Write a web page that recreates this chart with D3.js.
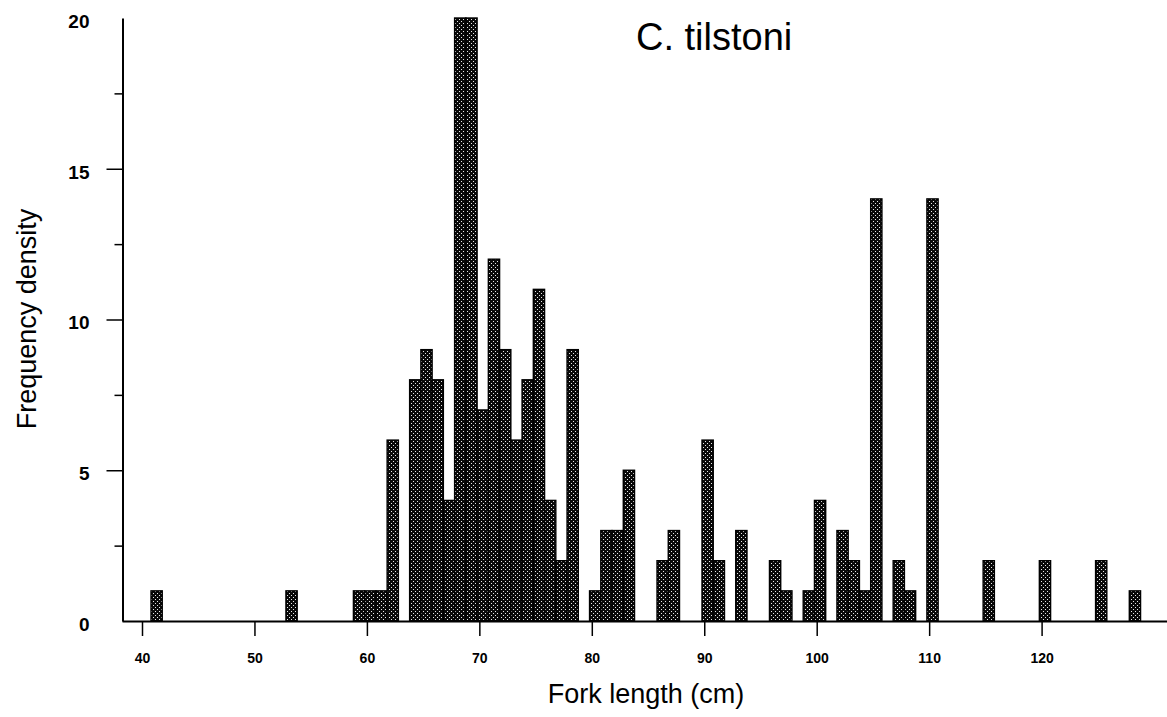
<!DOCTYPE html>
<html>
<head>
<meta charset="utf-8">
<script src="https://cdn.jsdelivr.net/npm/d3@7"></script>
<style>
    body { margin: 0; background: white; }
    svg { display: block; font-family: "Liberation Sans", Arial, sans-serif; }
    .tick-label { font-weight: bold; }
</style>
</head>
<body>
<svg id="chart" width="1167" height="717"></svg>
<script>
// Longueur a la fourche (classe de 1 cm) et effectif.
const forkLengths = [41, 53, 59, 60, 61, 62, 64, 65, 66, 67, 68, 69, 70, 71, 72, 73, 74, 75, 76, 77, 78,
    80, 81, 82, 83, 86, 87, 90, 91, 93, 96, 97, 99, 100, 102, 103, 104, 105, 107, 108, 110,
    115, 120, 125, 128];
const frequencies = [1, 1, 1, 1, 1, 6, 8, 9, 8, 4, 20, 20, 7, 12, 9, 6, 8, 11, 4, 2, 9,
    1, 3, 3, 5, 2, 3, 6, 2, 3, 2, 1, 1, 4, 3, 2, 1, 14, 2, 1, 14,
    2, 2, 2, 1];

const xTickValues = [40, 50, 60, 70, 80, 90, 100, 110, 120];
const yTickValues = [0, 5, 10, 15, 20];
const yMinorTicks = [2.5, 7.5, 12.5, 17.5];

const chartTitle = "C. tilstoni";
const xTitle = "Fork length (cm)";
const yTitle = "Frequency density";

const bins = forkLengths.map(function(len, i) {
    return { length: len, count: frequencies[i] };
});

const svg = d3.select("#chart");

svg.append("rect")
    .attr("width", 1167)
    .attr("height", 717)
    .attr("fill", "white");

// Trame pointillee des barres (scan d'une figure imprimee).
const defs = svg.append("defs");
const pattern = defs.append("pattern")
    .attr("id", "stipple")
    .attr("patternUnits", "userSpaceOnUse")
    .attr("width", 4)
    .attr("height", 4);
pattern.append("rect").attr("width", 4).attr("height", 4).attr("fill", "#0a0a0a");
pattern.append("rect").attr("x", 1).attr("y", 1).attr("width", 1).attr("height", 1).attr("fill", "#e8e8e8");
pattern.append("rect").attr("x", 3).attr("y", 3).attr("width", 1).attr("height", 1).attr("fill", "#e8e8e8");

// Echelle x : 40 -> 142 px, 120 -> 1041.6 px, axe prolonge jusqu'au bord.
const xBase = d3.scaleLinear().domain([40, 120]).range([142, 1041.6]);
const x = d3.scaleLinear()
    .domain([xBase.invert(122), xBase.invert(1167)])
    .range([122, 1167]);

const y = d3.scaleLinear().domain([0, 20]).range([621, 18]);

// Barres : chaque classe occupe une unite, legerement decalee a gauche.
svg.append("g")
    .selectAll(".bar")
    .data(bins)
    .enter()
    .append("rect")
    .attr("class", "bar")
    .attr("x", function(d) { return x(d.length - 0.2); })
    .attr("width", function(d) { return x(d.length + 0.8) - x(d.length - 0.2); })
    .attr("y", function(d) { return y(d.count); })
    .attr("height", function(d) { return y(0) - y(d.count); })
    .attr("fill", "url(#stipple)")
    .attr("stroke", "#000")
    .attr("stroke-width", 1.4);

// Axe x.
const xAxis = svg.append("g")
    .attr("transform", "translate(0," + y(0) + ")")
    .call(d3.axisBottom(x)
        .tickValues(xTickValues)
        .tickSize(15)
        .tickSizeOuter(0)
        .tickPadding(17)
        .tickFormat(d3.format("d")));
xAxis.select(".domain").attr("stroke-width", 2);
xAxis.selectAll(".tick line").attr("stroke-width", 1.5);
xAxis.selectAll(".tick text")
    .attr("class", "tick-label")
    .attr("font-size", 14)
    .attr("font-family", "Liberation Sans, Arial, sans-serif")
    .attr("fill", "#000");

// Axe y : graduations principales (sans trait a 0 et 20) et secondaires.
const yAxis = svg.append("g")
    .attr("transform", "translate(122.5,0)")
    .call(d3.axisLeft(y)
        .tickValues(yTickValues)
        .tickSize(16)
        .tickSizeOuter(0)
        .tickPadding(17));
yAxis.select(".domain").attr("stroke-width", 2);
yAxis.selectAll(".tick line")
    .attr("stroke-width", 1.5)
    .attr("opacity", function(d) { return d === 0 || d === 20 ? 0 : 1; });
yAxis.selectAll(".tick text")
    .attr("class", "tick-label")
    .attr("font-size", 19)
    .attr("dy", "0.49em")
    .attr("font-family", "Liberation Sans, Arial, sans-serif")
    .attr("fill", "#000");

const yMinor = svg.append("g")
    .attr("transform", "translate(122.5,0)")
    .call(d3.axisLeft(y)
        .tickValues(yMinorTicks)
        .tickSize(8)
        .tickFormat(""));
yMinor.select(".domain").remove();
yMinor.selectAll(".tick line").attr("stroke-width", 1.5);

// Titres.
svg.append("text")
    .attr("x", 636)
    .attr("y", 50)
    .attr("font-size", 38)
    .attr("fill", "#000")
    .text(chartTitle);

svg.append("text")
    .attr("x", 646)
    .attr("y", 703)
    .attr("text-anchor", "middle")
    .attr("font-size", 27)
    .attr("fill", "#000")
    .text(xTitle);

svg.append("text")
    .attr("transform", "translate(35.5,319) rotate(-90)")
    .attr("text-anchor", "middle")
    .attr("font-size", 27)
    .attr("fill", "#000")
    .text(yTitle);
</script>
</body>
</html>
